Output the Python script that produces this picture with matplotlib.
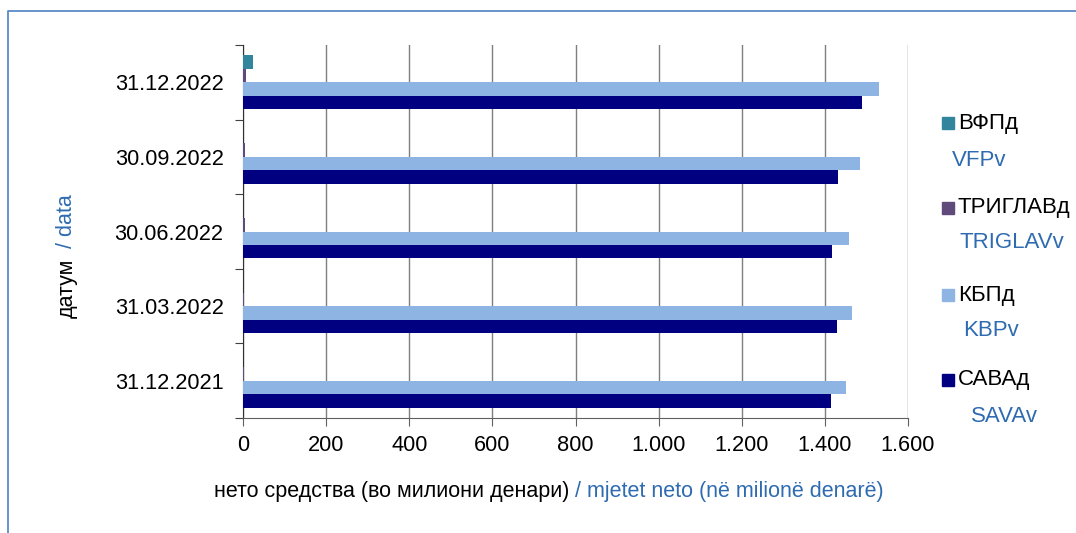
import numpy as np
import matplotlib
matplotlib.use("Agg")
import matplotlib.pyplot as plt
from matplotlib.patches import Rectangle
from matplotlib.lines import Line2D

plt.rcParams['font.family'] = ['Liberation Sans', 'DejaVu Sans']

# податоци (во милиони денари)
dates = ['31.12.2021', '31.03.2022', '30.06.2022', '30.09.2022', '31.12.2022']
sava = [1415, 1430, 1417, 1432, 1490]
kbp = [1451, 1466, 1458, 1485, 1530]
triglav = [2, 3, 4, 6, 8]
vfp = [0, 0, 0, 0, 24]

x_ticks = [0, 200, 400, 600, 800, 1000, 1200, 1400, 1600]
x_tick_labels = ['0', '200', '400', '600', '800', '1.000', '1.200', '1.400', '1.600']

series_mk = ['САВАд', 'КБПд', 'ТРИГЛАВд', 'ВФПд']
series_al = ['SAVAv', 'KBPv', 'TRIGLAVv', 'VFPv']
colors = ['#000080', '#8EB4E3', '#604A7B', '#31859C']
blue = '#2E6BB0'

W, H = 1076, 533
fig = plt.figure(figsize=(W / 100, H / 100), dpi=100)


def fx(px):
    return px / W


def fy(py):
    return 1 - py / H


ax = fig.add_axes([fx(243), fy(418), fx(908) - fx(243), fy(45) - fy(418)])

y = np.arange(len(dates))
h = 0.18
data = [sava, kbp, triglav, vfp]
for i, (vals, c) in enumerate(zip(data, colors)):
    ax.barh(y + (i - 1.5) * h, vals, height=h, color=c, zorder=3)

ax.set_xlim(0, 1600)
ax.set_ylim(-0.5, len(dates) - 0.5)
ax.set_xticks(x_ticks)
ax.set_xticklabels(x_tick_labels, fontsize=15.7)
ax.set_yticks(np.arange(len(dates) + 1) - 0.5)
ax.set_yticklabels([])
ax.set_yticks(y, dates, minor=True, fontsize=15.7)
ax.tick_params(axis='y', which='minor', length=0, pad=14)
ax.tick_params(axis='y', which='major', length=6, direction='out', color='#404040')
ax.tick_params(axis='x', length=6, direction='out', color='#606060', pad=6)
ax.grid(axis='x', color='#7F7F7F', linewidth=1, zorder=0)
ax.set_axisbelow(True)
for s in ['top', 'right']:
    ax.spines[s].set_visible(False)
ax.spines['left'].set_color('#303030')
ax.spines['bottom'].set_color('#606060')

# наслови на оските
fig.text(fx(569), fy(492), 'нето средства (во милиони денари)', ha='right', va='center', fontsize=15.5)
fig.text(fx(575), fy(492), '/ mjetet neto (në milionë denarë)', ha='left', va='center', fontsize=15.5, color=blue)
fig.text(fx(67), fy(318), 'датум', rotation=90, rotation_mode='anchor', ha='left', va='center', fontsize=15.5)
fig.text(fx(67), fy(248), '/ data', rotation=90, rotation_mode='anchor', ha='left', va='center', fontsize=15.5, color=blue)

# легенда
leg_y = [380, 295, 208, 123]
leg_y2 = [416, 330, 243, 160]
leg_x2 = [971, 963, 960, 952]
for i in range(4):
    fig.add_artist(Rectangle((fx(942), fy(leg_y[i] + 6)), fx(12), 12 / H,
                             transform=fig.transFigure, color=colors[i]))
    fig.text(fx(958), fy(leg_y[i]), series_mk[i], ha='left', va='center', fontsize=16)
    fig.text(fx(leg_x2[i]), fy(leg_y2[i]), series_al[i], ha='left', va='center', fontsize=16, color=blue)

# рамка
fig.add_artist(Line2D([fx(8), fx(8), 1], [0, fy(11), fy(11)], transform=fig.transFigure,
                      color='#5B8BC8', linewidth=1.3))

fig.savefig('out.png', dpi=100)
